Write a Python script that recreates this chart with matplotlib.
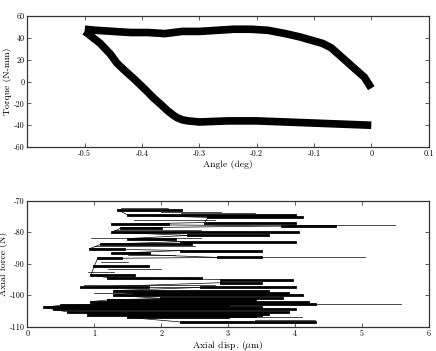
import numpy as np
import matplotlib
matplotlib.use("Agg")
from matplotlib import pyplot as plt

plt.rcParams['font.family'] = ['cmr10', 'DejaVu Serif']
plt.rcParams['mathtext.fontset'] = 'cm'
plt.rcParams['axes.unicode_minus'] = False

# Torque x angle loop (centre line of the noisy band)
ang_up = [-0.500, -0.480, -0.450, -0.420, -0.390, -0.360, -0.330, -0.300, -0.270, -0.240,
          -0.210, -0.180, -0.150, -0.125, -0.105, -0.085, -0.070, -0.055, -0.040, -0.025,
          -0.012, 0.000]
tq_up = [48, 47, 46, 45, 45, 44, 46, 46, 47, 48,
         48, 47, 44, 41, 38, 35, 31, 24, 17, 10,
         4, -6]
ang_lo = [-0.500, -0.490, -0.473, -0.455, -0.444, -0.430, -0.415, -0.397, -0.380, -0.365,
          -0.357, -0.345, -0.339, -0.330, -0.320, -0.300, -0.250, -0.200, -0.150, -0.100,
          -0.050, 0.000]
tq_lo = [46, 42, 35, 25, 17, 10, 3, -6, -15, -22,
         -26, -31, -33, -35, -36, -37, -36, -36, -37, -38,
         -39, -40]

# Axial force x axial displacement: dense horizontal streaks of the trace
streak_y = [-72.9, -74.5, -75.3, -76.9, -77.5, -78.0, -78.6, -80.0, -81.0, -82.0,
            -83.0, -83.8, -85.2, -85.8, -86.7, -88.0, -88.3, -90.7, -93.5, -94.4,
            -95.0, -96.0, -97.5, -97.5, -98.5, -99.3, -100.0, -101.0, -101.5, -102.0,
            -102.8, -103.2, -103.8, -104.5, -105.3, -105.8, -106.2, -106.6, -107.0, -108.5]
streak_x0 = [1.35, 1.50, 2.70, 2.65, 1.27, 3.80, 1.40, 1.27, 2.40, 1.50,
             2.30, 1.10, 0.93, 2.30, 1.27, 2.85, 1.05, 1.00, 0.95, 1.20,
             2.90, 2.90, 0.80, 2.60, 1.30, 1.60, 1.30, 2.00, 1.20, 0.95,
             1.00, 0.50, 0.25, 0.40, 0.60, 1.00, 0.90, 1.80, 1.50, 2.30]
streak_x1 = [2.30, 4.00, 4.10, 4.00, 2.10, 4.60, 2.00, 4.05, 3.60, 2.20,
             4.00, 2.44, 1.44, 3.50, 1.82, 3.50, 1.40, 1.80, 1.60, 2.60,
             3.95, 3.50, 1.80, 4.00, 3.60, 3.90, 4.10, 3.80, 3.40, 4.20,
             4.30, 3.00, 3.50, 4.00, 3.90, 3.60, 3.50, 3.40, 3.00, 4.30]
# thin wandering parts of the trace
thin_y = [-72.3, -73.5, -73.8, -76.0, -77.8, -79.2, -81.8, -84.5, -87.2, -88.0,
          -89.5, -91.8, -92.5, -96.8, -99.2, -101.5, -102.8, -103.3, -106.8, -108.0]
thin_x0 = [1.40, 2.00, 2.30, 1.60, 3.90, 1.30, 0.95, 1.00, 1.50, 3.50,
           1.10, 1.20, 0.90, 0.85, 1.00, 1.20, 4.30, 0.30, 2.00, 3.40]
thin_x1 = [2.10, 2.90, 3.40, 2.80, 5.50, 2.60, 2.60, 2.50, 2.20, 5.05,
           1.50, 2.00, 1.30, 2.80, 2.20, 3.20, 5.58, 2.00, 4.10, 4.30]

fig = plt.figure(figsize=(4.36, 3.51), dpi=100)
ax1 = fig.add_axes([0.063, 0.581, 0.920, 0.373])
ax2 = fig.add_axes([0.063, 0.069, 0.920, 0.359])

ax1.plot(ang_up, tq_up, color='black', lw=5.5, solid_capstyle='butt')
ax1.plot(ang_lo, tq_lo, color='black', lw=5.5, solid_capstyle='butt')
ax1.set_xlim(-0.6, 0.1)
ax1.set_ylim(-60, 60)
ax1.set_xticks([-0.5, -0.4, -0.3, -0.2, -0.1, 0, 0.1])
ax1.set_xticklabels(['-0.5', '-0.4', '-0.3', '-0.2', '-0.1', '0', '0.1'])
ax1.set_yticks([-60, -40, -20, 0, 20, 40, 60])
ax1.set_yticklabels(['-60', '-40', '-20', '0', '20', '40', '60'])
ax1.set_xlabel('Angle (deg)', fontsize=7, labelpad=1)
ax1.set_ylabel('Torque (N-mm)', fontsize=7, labelpad=1.5)

# trace: dense streaks joined by short thin links at their near ends
for i in range(len(streak_y)):
    ax2.plot([streak_x0[i], streak_x1[i]], [streak_y[i], streak_y[i]], color='black', lw=2.0)
    if i > 0:
        ax2.plot([streak_x0[i - 1], streak_x0[i]], [streak_y[i - 1], streak_y[i]],
                 color='black', lw=0.5)
for i in range(len(thin_y)):
    ax2.plot([thin_x0[i], thin_x1[i]], [thin_y[i], thin_y[i]], color='black', lw=0.5)
ax2.set_xlim(0, 6)
ax2.set_ylim(-110, -70)
ax2.set_xticks(range(7))
ax2.set_xticklabels([str(v) for v in range(7)])
ax2.set_yticks([-110, -100, -90, -80, -70])
ax2.set_yticklabels(['-110', '-100', '-90', '-80', '-70'])
ax2.set_xlabel(r'Axial disp. ($\mu$m)', fontsize=7, labelpad=0.5)
ax2.set_ylabel('Axial force (N)', fontsize=7, labelpad=1)

for ax in (ax1, ax2):
    ax.tick_params(direction='in', top=True, right=True, length=3, width=0.6,
                   labelsize=5.8, pad=2, color='#444444')
    for s in ax.spines.values():
        s.set_color('#333333')
        s.set_linewidth(0.9)

fig.savefig('out.png', dpi=100)
